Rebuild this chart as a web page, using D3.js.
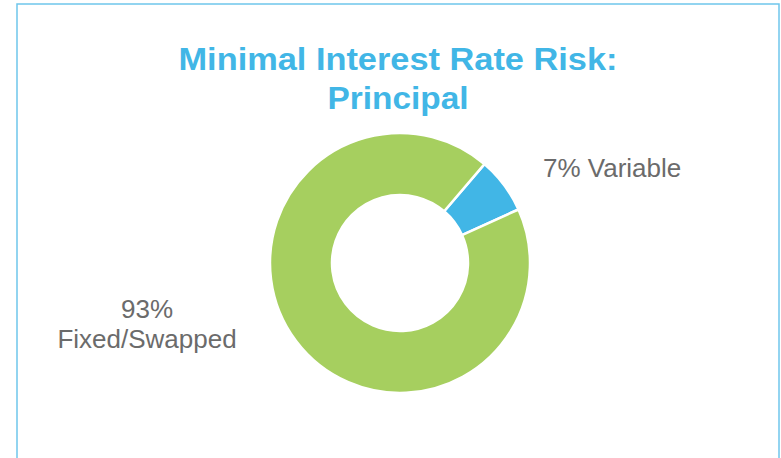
<!DOCTYPE html>
<html>
<head>
<meta charset="utf-8">
<script src="https://cdn.jsdelivr.net/npm/d3@7"></script>
<style>
  body { margin: 0; background: #fff; }
  svg { display: block; font-family: "Liberation Sans", Arial, sans-serif; }
</style>
</head>
<body>
<svg id="svg" width="781" height="458"></svg>
<script>
// Chart data
const categories = ["Variable", "Fixed/Swapped"];
const shares = [7, 93];
const labelLines = [["7% Variable"], ["93%", "Fixed/Swapped"]];
const titleLines = ["Minimal Interest Rate Risk:", "Principal"];
const colors = ["#41b6e6", "#a6cf5f"];

const width = 781, height = 458;
const cx = 400, cy = 263;
const outerR = 130, innerR = 68;

const svg = d3.select("#svg");

// Frame
svg.append("rect")
    .attr("x", 17)
    .attr("y", 4)
    .attr("width", 762)
    .attr("height", 470)
    .attr("fill", "none")
    .attr("stroke", "#6fc6ec")
    .attr("stroke-width", 1.5);

// Title
const titleWidths = [439, 141];
svg.append("g")
    .selectAll("text")
    .data(titleLines)
    .join("text")
    .attr("x", 398)
    .attr("y", (d, i) => 70 + i * 39)
    .attr("text-anchor", "middle")
    .attr("textLength", (d, i) => titleWidths[i])
    .attr("lengthAdjust", "spacingAndGlyphs")
    .style("font-size", "31px")
    .style("font-weight", "bold")
    .style("fill", "#41b6e6")
    .text(d => d);

// Donut
const pie = d3.pie()
    .sort(null)
    .startAngle(40.5 * Math.PI / 180)
    .endAngle(40.5 * Math.PI / 180 + 2 * Math.PI);

const arc = d3.arc()
    .innerRadius(innerR)
    .outerRadius(outerR);

const g = svg.append("g")
    .attr("transform", `translate(${cx},${cy})`);

g.selectAll("path")
    .data(pie(shares))
    .join("path")
    .attr("d", arc)
    .attr("fill", (d, i) => colors[i])
    .attr("stroke", "#fff")
    .attr("stroke-width", 2.5);

// Labels
const labelPos = [
    { x: 543, y: 177, anchor: "start" },
    { x: 147, y: 318, anchor: "middle" }
];

const labels = svg.append("g")
    .selectAll("text")
    .data(categories)
    .join("text")
    .attr("x", (d, i) => labelPos[i].x)
    .attr("y", (d, i) => labelPos[i].y)
    .attr("text-anchor", (d, i) => labelPos[i].anchor)
    .style("font-size", "26px")
    .style("fill", "#6b6b6b");

labels.selectAll("tspan")
    .data((d, i) => labelLines[i].map(t => ({ t, i })))
    .join("tspan")
    .attr("x", d => labelPos[d.i].x)
    .attr("dy", (d, j) => j === 0 ? 0 : 30)
    .text(d => d.t);
</script>
</body>
</html>
